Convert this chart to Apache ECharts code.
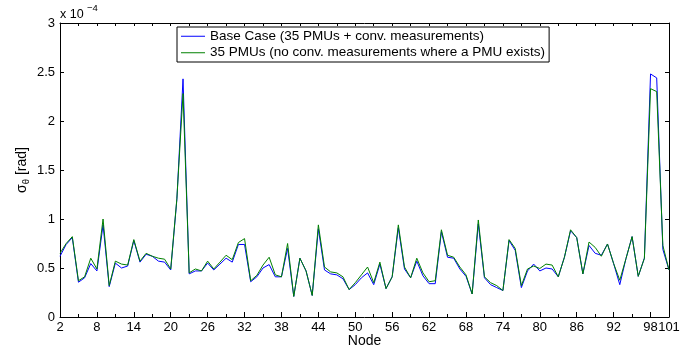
<!DOCTYPE html>
<html>
<head>
<meta charset="utf-8">
<script src="https://cdn.jsdelivr.net/npm/echarts@6/dist/echarts.min.js"></script>
<style>html,body{margin:0;padding:0;background:#fff}#c{width:693px;height:349px}</style>
</head>
<body>
<div id="c"></div>
<script>
// Node numbers 2..101
const nodes = [];
for (let n = 2; n <= 101; n++) nodes.push(String(n));

// sigma_theta in units of 1e-4 rad
const baseCase = [
  0.62, 0.74, 0.81, 0.355, 0.40, 0.545, 0.47, 0.94, 0.31, 0.55,
  0.50, 0.52, 0.78, 0.56, 0.64, 0.62, 0.57, 0.56, 0.48, 1.20,
  2.43, 0.44, 0.47, 0.47, 0.55, 0.48, 0.54, 0.60, 0.56, 0.74,
  0.74, 0.36, 0.41, 0.50, 0.535, 0.41, 0.41, 0.70, 0.21, 0.60,
  0.47, 0.22, 0.90, 0.48, 0.44, 0.43, 0.39, 0.28, 0.33, 0.40,
  0.45, 0.33, 0.54, 0.29, 0.41, 0.91, 0.49, 0.40, 0.57, 0.42,
  0.34, 0.34, 0.87, 0.61, 0.60, 0.49, 0.415, 0.235, 0.95, 0.40,
  0.33, 0.30, 0.27, 0.78, 0.68, 0.30, 0.47, 0.54, 0.47, 0.50,
  0.49, 0.41, 0.61, 0.88, 0.81, 0.44, 0.73, 0.65, 0.63, 0.745,
  0.545, 0.33, 0.595, 0.82, 0.415, 0.60, 2.48, 2.44, 0.69, 0.48
];
const pmuOnly = [
  0.65, 0.75, 0.82, 0.37, 0.41, 0.60, 0.49, 1.00, 0.32, 0.57,
  0.54, 0.53, 0.79, 0.57, 0.65, 0.62, 0.60, 0.59, 0.49, 1.21,
  2.28, 0.45, 0.49, 0.47, 0.57, 0.49, 0.56, 0.63, 0.585, 0.76,
  0.80, 0.37, 0.425, 0.53, 0.61, 0.43, 0.41, 0.75, 0.21, 0.60,
  0.47, 0.22, 0.94, 0.51, 0.46, 0.45, 0.41, 0.28, 0.35, 0.43,
  0.51, 0.35, 0.56, 0.29, 0.41, 0.94, 0.51, 0.40, 0.60, 0.45,
  0.36, 0.37, 0.89, 0.63, 0.61, 0.51, 0.43, 0.235, 0.99, 0.41,
  0.35, 0.32, 0.27, 0.79, 0.70, 0.32, 0.49, 0.52, 0.495, 0.54,
  0.53, 0.41, 0.61, 0.89, 0.81, 0.44, 0.765, 0.71, 0.62, 0.745,
  0.545, 0.375, 0.595, 0.82, 0.415, 0.60, 2.33, 2.30, 0.73, 0.48
];
const seriesNames = [
  'Base Case (35 PMUs + conv. measurements)',
  '35 PMUs (no conv. measurements where a PMU exists)'
];

const FONT = 'Liberation Sans, Arial, Helvetica, sans-serif';
const chart = echarts.init(document.getElementById('c'), null, {renderer: 'canvas'});
const lastIdx = nodes.length - 1;
const lineStyle = {color: '#000', width: 1};

chart.setOption({
  animation: false,
  backgroundColor: '#fff',
  textStyle: {fontFamily: FONT, color: '#000'},
  grid: {left: 60, right: 24, top: 23, bottom: 32, containLabel: false, outerBoundsMode: 'none'},
  legend: {
    orient: 'vertical',
    left: 177, top: 27,
    padding: [1, 4, 1, 4],
    itemGap: 0,
    itemWidth: 24, itemHeight: 1,
    icon: 'rect',
    borderColor: '#000', borderWidth: 1,
    backgroundColor: '#fff',
    textStyle: {fontFamily: FONT, fontSize: 13.5, color: '#000', lineHeight: 16.5},
    data: seriesNames
  },
  xAxis: [
    {
      type: 'category', data: nodes, boundaryGap: false, position: 'bottom',
      axisLine: {show: true, lineStyle: lineStyle},
      axisTick: {show: true, inside: true, length: 3, lineStyle: lineStyle,
                 interval: (i) => i % 3 === 0},
      axisLabel: {show: true, color: '#000', fontSize: 13, margin: 4, fontFamily: FONT,
                  interval: (i) => i % 6 === 0 || i === lastIdx},
      splitLine: {show: false},
      name: 'Node', nameLocation: 'middle', nameGap: 17, nameMoveOverlap: false,
      nameTextStyle: {fontSize: 14, color: '#000', fontFamily: FONT}
    },
    {
      type: 'category', data: nodes, boundaryGap: false, position: 'bottom',
      axisLine: {show: false},
      axisTick: {show: true, inside: true, length: 5, lineStyle: lineStyle,
                 interval: (i) => i % 6 === 0 || i === lastIdx},
      axisLabel: {show: false}, splitLine: {show: false}
    },
    {
      type: 'category', data: nodes, boundaryGap: false, position: 'top',
      axisLine: {show: true, lineStyle: lineStyle},
      axisTick: {show: true, inside: true, length: 3, lineStyle: lineStyle,
                 interval: (i) => i % 3 === 0},
      axisLabel: {show: false}, splitLine: {show: false}
    }
  ],
  yAxis: [
    {
      type: 'value', min: 0, max: 3, interval: 0.5, position: 'left',
      axisLine: {show: true, lineStyle: lineStyle},
      axisTick: {show: true, inside: true, length: 4, lineStyle: lineStyle},
      axisLabel: {show: true, color: '#000', fontSize: 13, margin: 5, fontFamily: FONT},
      splitLine: {show: false},
      name: '{a|σ}{b|θ}{a| [rad]}', nameLocation: 'middle', nameGap: 29, nameMoveOverlap: false,
      nameTextStyle: {
        color: '#000', fontFamily: FONT,
        rich: {
          a: {fontSize: 14, fontFamily: FONT, color: '#000', lineHeight: 18, verticalAlign: 'middle'},
          b: {fontSize: 9.5, fontFamily: FONT, color: '#000', lineHeight: 18, verticalAlign: 'middle', padding: [8, 0, 0, 0]}
        }
      }
    },
    {
      type: 'value', min: 0, max: 3, interval: 0.5, position: 'right',
      axisLine: {show: true, lineStyle: lineStyle},
      axisTick: {show: true, inside: true, length: 4, lineStyle: lineStyle},
      axisLabel: {show: false}, splitLine: {show: false}
    }
  ],
  graphic: [
    {type: 'text', left: 60, top: 8, style: {text: 'x 10', font: '12.5px ' + FONT, fill: '#000'}},
    {type: 'text', left: 87, top: 3, style: {text: '−4', font: '9.5px ' + FONT, fill: '#000'}}
  ],
  series: [
    {
      name: seriesNames[0], type: 'line', data: baseCase,
      xAxisIndex: 0, yAxisIndex: 0,
      symbol: 'none', showSymbol: false,
      itemStyle: {color: '#0000ff'},
      lineStyle: {color: '#0000ff', width: 1}
    },
    {
      name: seriesNames[1], type: 'line', data: pmuOnly,
      xAxisIndex: 0, yAxisIndex: 0,
      symbol: 'none', showSymbol: false,
      itemStyle: {color: '#008000'},
      lineStyle: {color: '#008000', width: 1}
    }
  ]
});
</script>
</body>
</html>
